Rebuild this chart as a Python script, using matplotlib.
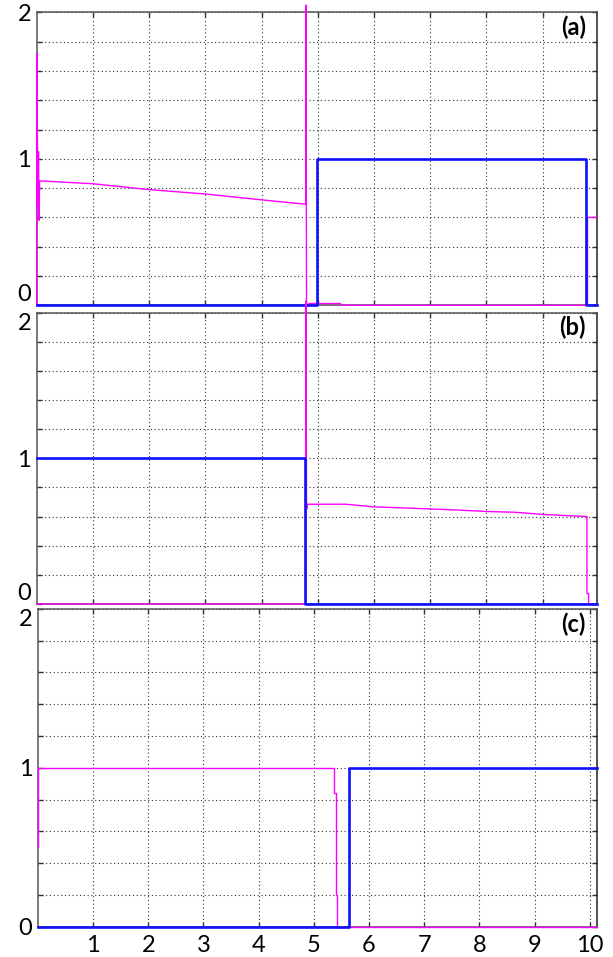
import numpy as np
import matplotlib.pyplot as plt

plt.rcParams['font.family'] = ['Lato', 'DejaVu Sans']

# panel (a) traces
a_mag_x = [0, 0, 0.02, 0.03, 0.04, 0.05, 1.0, 2.0, 3.0, 4.0, 4.79, 4.79, 4.80, 4.85, 5.40, 5.42, 9.80, 9.80, 9.97]
a_mag_y = [0, 1.72, 0.70, 1.05, 0.58, 0.85, 0.83, 0.79, 0.76, 0.72, 0.69, 2.05, 0.0, 0.012, 0.012, 0.0, 0.0, 0.60, 0.60]
a_blu_x = [0, 4.98, 4.98, 9.78, 9.78, 9.97]
a_blu_y = [0, 0, 1, 1, 0, 0]

# panel (b) traces
b_mag_x = [0, 4.79, 4.79, 4.80, 4.82, 5.5, 6.0, 6.5, 7.5, 8.0, 8.5, 9.0, 9.79, 9.79, 9.82, 9.82, 9.97]
b_mag_y = [0, 0, 2.08, 0.65, 0.685, 0.685, 0.667, 0.66, 0.645, 0.635, 0.63, 0.615, 0.60, 0.07, 0.07, 0.0, 0.0]
b_blu_x = [0, 4.77, 4.77, 9.97]
b_blu_y = [1, 1, 0, 0]

# panel (c) traces
c_mag_x = [0, 0, 5.37, 5.37, 5.40, 5.40, 5.42, 5.42, 10.13]
c_mag_y = [0.5, 1, 1, 0.84, 0.84, 0.2, 0.2, 0, 0]
c_blu_x = [0, 5.63, 5.63, 10.13]
c_blu_y = [0, 0, 1, 1]

panels = [
    ('(a)', a_mag_x, a_mag_y, a_blu_x, a_blu_y, 9.97, [0.060, 0.681, 0.914, 0.306]),
    ('(b)', b_mag_x, b_mag_y, b_blu_x, b_blu_y, 9.97, [0.060, 0.369, 0.914, 0.304]),
    ('(c)', c_mag_x, c_mag_y, c_blu_x, c_blu_y, 10.13, [0.0617, 0.0317, 0.912, 0.332]),
]

fig = plt.figure(figsize=(6.13, 9.57), dpi=100)

for i, (tag, mx, my, bx, by, xmax, rect) in enumerate(panels):
    ax = fig.add_axes(rect)
    ax.plot(mx, my, color='#ff00ff', lw=1.0, clip_on=False, zorder=2.6)
    ax.plot(bx, by, color='#1010ff', lw=1.9, clip_on=False, zorder=2.7)
    ax.set_xlim(0, xmax)
    ax.set_ylim(0, 2)

    xt = list(range(1, int(xmax) + 1))
    ax.set_xticks(xt)
    yt = np.round(np.arange(0, 2.01, 0.2), 1)
    ax.set_yticks(yt)
    ax.set_yticklabels(['0' if v == 0 else '1' if v == 1 else '2' if v == 2 else '' for v in yt])
    if i == 2:
        ax.set_xticklabels([str(v) for v in xt])
    else:
        ax.set_xticklabels([])

    # keep the 0 / 2 labels of neighbouring panels apart
    labels = ax.get_yticklabels()
    if i < 2:
        labels[0].set_va('bottom')
    if i > 0:
        labels[-1].set_va('top')

    ax.grid(True, color='#333333', lw=0.8, linestyle=(0, (1, 2.4)))
    ax.tick_params(direction='in', length=3.5, width=1.0, top=True, right=True,
                   labelsize=17, color='#333333')
    ax.tick_params(axis='y', pad=4)
    ax.tick_params(axis='x', pad=6)
    for side in ['left', 'top', 'bottom']:
        ax.spines[side].set_color('#555555')
        ax.spines[side].set_linewidth(1.1)
    ax.spines['right'].set_color('#222222')
    ax.spines['right'].set_linewidth(1.1)

    ax.text(0.98, 0.99, tag, transform=ax.transAxes, ha='right', va='top',
            fontsize=17, fontweight='bold')

fig.savefig('out.png', dpi=100)
